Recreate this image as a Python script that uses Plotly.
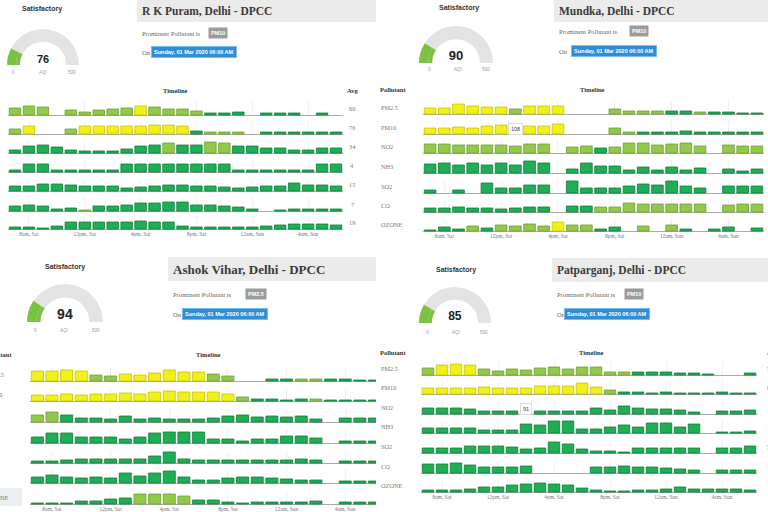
import plotly.graph_objects as go

W, H = 768, 512

# ---------------- data ----------------
POLLUTANTS = ["PM2.5", "PM10", "NO2", "NH3", "SO2", "CO", "OZONE"]
TICK_SLOTS = [1, 5, 9, 13, 17, 21]
TICK_LABELS = ["8am, Sat", "12pm, Sat", "4pm, Sat", "8pm, Sat", "12am, Sun", "4am, Sun"]
HOURS = list(range(24))

STATIONS = ["R K Puram, Delhi - DPCC", "Mundka, Delhi - DPCC",
            "Ashok Vihar, Delhi - DPCC", "Patparganj, Delhi - DPCC"]
AQI = [76, 90, 94, 85]
AQI_STATUS = ["Satisfactory", "Satisfactory", "Satisfactory", "Satisfactory"]
PROMINENT = ["PM10", "PM10", "PM2.5", "PM10"]
UPDATED = "Sunday, 01 Mar 2020 06:00 AM"
GAUGE_MAX = 500

# category per hour: g = good, s = satisfactory, m = moderate, - = no data
# R K Puram
RKP_PM25 = [7, 9, 8, 0, 5, 3, 5, 6, 7, 9, 8, 6, 6, 4, 2, 2, 3, 0, 2, 2, 2, 0, 2, 0]
RKP_PM25_CAT = "sss-sssssmssssggg-ggg-g-"
RKP_PM10 = [5, 8, 0, 0, 5, 8, 8, 8, 8, 8, 9, 9, 8, 3, 2, 2, 2, 0, 2, 2, 2, 2, 2, 2]
RKP_PM10_CAT = "sm--smmmmmmmmgsss-gggggg"
RKP_NO2 = [3, 7, 8, 6, 3, 2, 2, 2, 4, 7, 8, 10, 8, 8, 11, 10, 7, 7, 5, 5, 3, 3, 5, 5]
RKP_NO2_CAT = "gggggggggggsggssgggggggg"
RKP_NH3 = [2, 8, 8, 2, 2, 2, 2, 2, 8, 8, 8, 8, 8, 8, 8, 8, 2, 2, 2, 2, 2, 2, 8, 8]
RKP_NH3_CAT = "gggggggggggggggggggggggg"
RKP_SO2 = [5, 5, 7, 7, 6, 5, 5, 5, 3, 4, 5, 6, 6, 5, 5, 4, 3, 4, 5, 5, 8, 6, 6, 5]
RKP_SO2_CAT = "gggggggggggggggggggggggg"
RKP_CO = [5, 6, 5, 2, 3, 1, 5, 5, 6, 8, 8, 9, 9, 6, 6, 5, 4, 2, 0, 1, 2, 2, 2, 2]
RKP_CO_CAT = "gggggsgggggggggggg-ggggg"
RKP_OZONE = [2, 2, 1, 3, 7, 7, 7, 7, 7, 8, 7, 7, 3, 2, 2, 2, 2, 2, 3, 4, 5, 5, 5, 4]
RKP_OZONE_CAT = "gggggggggggggggggggggggg"
RKP_AVG = [60, 76, 34, 4, 15, 7, 19]

# Mundka
MUN_PM25 = [6, 6, 10, 8, 7, 7, 5, 8, 8, 8, 0, 0, 0, 5, 3, 3, 3, 3, 3, 2, 2, 2, 1, 1]
MUN_PM25_CAT = "mmmmmmsmmm---ssssggsgggg"
MUN_PM10 = [6, 6, 7, 6, 8, 9, 8, 8, 8, 10, 0, 0, 0, 6, 2, 2, 2, 2, 3, 2, 2, 2, 2, 2]
MUN_PM10_CAT = "mmmmmmmmmm---ssggggggggg"
MUN_NO2 = [9, 9, 8, 8, 8, 8, 7, 9, 9, 0, 6, 7, 5, 6, 10, 10, 8, 9, 10, 7, 0, 8, 7, 7]
MUN_NO2_CAT = "sssssssss-ssgsssssss-sss"
MUN_NH3 = [9, 10, 8, 10, 8, 10, 8, 12, 10, 0, 4, 10, 7, 7, 3, 6, 3, 6, 3, 5, 0, 4, 2, 4]
MUN_NH3_CAT = "ggggggggg-gggggggggg-ggg"
MUN_SO2 = [3, 0, 3, 0, 10, 5, 5, 8, 8, 0, 12, 5, 5, 5, 7, 9, 8, 12, 7, 5, 0, 7, 7, 7]
MUN_SO2_CAT = "g-g-ggggg-gggggggggg-ggg"
MUN_CO = [4, 4, 5, 4, 4, 3, 4, 5, 5, 0, 6, 6, 5, 5, 9, 8, 8, 8, 8, 8, 0, 7, 8, 8]
MUN_CO_CAT = "ggggggggg-ggssssssss-sss"
MUN_OZONE = [1, 4, 2, 5, 3, 6, 5, 7, 5, 9, 6, 6, 2, 4, 0, 5, 0, 6, 2, 0, 2, 4, 0, 3]
MUN_OZONE_CAT = "gggsgssssmssgg-s-sg-gg-g"
MUN_TOOLTIP = (1, 6, "108")   # row, hour, value shown in hover box

# Ashok Vihar
ASV_PM25 = [10, 10, 11, 10, 6, 5, 7, 6, 8, 11, 9, 9, 7, 5, 0, 0, 2, 2, 2, 2, 2, 2, 1, 1]
ASV_PM25_CAT = "mmmmssmmmmmmss--ggssgggg"
ASV_PM10 = [6, 6, 7, 6, 7, 7, 8, 7, 9, 10, 9, 9, 9, 7, 4, 2, 2, 1, 2, 2, 1, 1, 1, 1]
ASV_PM10_CAT = "mmmmmmmmmmmmmmsggggsgggg"
ASV_NO2 = [7, 10, 7, 4, 4, 3, 6, 3, 4, 3, 3, 3, 4, 6, 7, 5, 6, 5, 6, 3, 0, 4, 4, 4]
ASV_NO2_CAT = "ssgggggggggggggggggg-ggg"
ASV_NH3 = [6, 10, 10, 6, 6, 6, 4, 6, 10, 11, 11, 11, 4, 4, 2, 4, 4, 7, 7, 5, 0, 2, 2, 2]
ASV_NH3_CAT = "gggggggggggggggggggg-ggg"
ASV_SO2 = [2, 2, 3, 4, 4, 4, 4, 4, 7, 11, 4, 3, 3, 3, 3, 3, 3, 3, 4, 3, 0, 2, 2, 2]
ASV_SO2_CAT = "gggggggggggggggggggg-ggg"
ASV_CO = [6, 8, 6, 5, 6, 5, 10, 7, 10, 12, 6, 3, 3, 5, 6, 6, 5, 4, 3, 3, 0, 2, 2, 2]
ASV_CO_CAT = "gggggggggggggggggggg-ggg"
ASV_OZONE = [1, 1, 1, 3, 3, 5, 6, 10, 10, 10, 8, 4, 4, 2, 1, 2, 2, 2, 2, 3, 0, 2, 2, 2]
ASV_OZONE_CAT = "gggggggssssggggggggg-ggg"

# Patparganj
PPG_PM25 = [7, 10, 11, 10, 6, 4, 6, 5, 7, 8, 6, 8, 8, 3, 3, 3, 3, 3, 2, 2, 1, 0, 0, 2]
PPG_PM25_CAT = "smmmsssssssssssgggggg--g"
PPG_PM10 = [6, 6, 6, 6, 7, 6, 6, 6, 8, 8, 8, 11, 7, 4, 2, 2, 1, 2, 1, 1, 1, 2, 1, 1]
PPG_PM10_CAT = "mmmmmmmmmmmmmsgggggggggg"
PPG_NO2 = [6, 6, 6, 5, 3, 3, 3, 0, 3, 3, 3, 3, 6, 4, 8, 6, 5, 5, 4, 2, 0, 3, 3, 4]
PPG_NO2_CAT = "ggggggg-gggggggggggg-ggg"
PPG_NH3 = [5, 5, 5, 5, 3, 3, 3, 9, 8, 12, 12, 4, 4, 6, 8, 6, 10, 10, 6, 9, 0, 1, 1, 2]
PPG_NH3_CAT = "gggggggggggggggggggg-ggg"
PPG_SO2 = [5, 5, 5, 7, 7, 7, 6, 4, 5, 11, 9, 4, 2, 2, 1, 5, 5, 5, 5, 5, 0, 5, 5, 7]
PPG_SO2_CAT = "gggggggggggggggggggg-ggg"
PPG_CO = [9, 9, 10, 8, 6, 6, 6, 7, 0, 0, 0, 0, 6, 6, 7, 6, 6, 5, 4, 3, 0, 3, 3, 3]
PPG_CO_CAT = "gggggggg----gggggggg-ggg"
PPG_OZONE = [2, 2, 2, 3, 5, 5, 7, 8, 9, 8, 7, 4, 2, 1, 1, 2, 2, 3, 5, 3, 3, 3, 3, 2]
PPG_OZONE_CAT = "gggggggggggggggggggggggg"
PPG_AVG = [56, 83, 14, 15, 57, 30, 12]
PPG_TOOLTIP = (2, 7, "91")

SERIES = [
    [(RKP_PM25, RKP_PM25_CAT), (RKP_PM10, RKP_PM10_CAT), (RKP_NO2, RKP_NO2_CAT), (RKP_NH3, RKP_NH3_CAT),
     (RKP_SO2, RKP_SO2_CAT), (RKP_CO, RKP_CO_CAT), (RKP_OZONE, RKP_OZONE_CAT)],
    [(MUN_PM25, MUN_PM25_CAT), (MUN_PM10, MUN_PM10_CAT), (MUN_NO2, MUN_NO2_CAT), (MUN_NH3, MUN_NH3_CAT),
     (MUN_SO2, MUN_SO2_CAT), (MUN_CO, MUN_CO_CAT), (MUN_OZONE, MUN_OZONE_CAT)],
    [(ASV_PM25, ASV_PM25_CAT), (ASV_PM10, ASV_PM10_CAT), (ASV_NO2, ASV_NO2_CAT), (ASV_NH3, ASV_NH3_CAT),
     (ASV_SO2, ASV_SO2_CAT), (ASV_CO, ASV_CO_CAT), (ASV_OZONE, ASV_OZONE_CAT)],
    [(PPG_PM25, PPG_PM25_CAT), (PPG_PM10, PPG_PM10_CAT), (PPG_NO2, PPG_NO2_CAT), (PPG_NH3, PPG_NH3_CAT),
     (PPG_SO2, PPG_SO2_CAT), (PPG_CO, PPG_CO_CAT), (PPG_OZONE, PPG_OZONE_CAT)],
]
AVGS = [RKP_AVG, None, None, PPG_AVG]
TOOLTIPS = [None, MUN_TOOLTIP, None, PPG_TOOLTIP]

# ---------------- styles / layout (pixels) ----------------
FILL = {"g": "#1fae55", "s": "#93c94a", "m": "#f2f019"}
EDGE = {"g": "#0c7d3a", "s": "#6f9f2f", "m": "#c9c400"}
SERIF = "Liberation Serif"
SANS = "Liberation Sans"

LAYOUT = [
    dict(sat=(42, 9), gauge=(43, 65, 36), num=11, glab_y=72, glab_x=(13, 43, 72),
         box=(137, 376, 0, 22), title=(140, 11, 11.5), prom=(140, 33), badge=208, on=(140, 52), blue=151,
         poll_x=None, timeline=(175, 90), avg_x=352, bars=(8, 343, 23.5),
         base=[115, 134, 153, 172, 191, 211, 229]),
    dict(sat=(459, 8), gauge=(456, 63, 37), num=13, glab_y=69, glab_x=(429, 458, 486),
         box=(554, 768, 0, 22), title=(557, 11, 11.5), prom=(557, 31), badge=629, on=(557, 51), blue=571,
         poll_x=378, timeline=(592, 89), avg_x=None, bars=(423, 764, 23.5),
         base=[114, 134, 153, 173, 193, 212, 231]),
    dict(sat=(65, 267), gauge=(65, 322, 38), num=14, glab_y=330, glab_x=(35, 64, 96),
         box=(168, 376, 257, 281), title=(171, 269, 13), prom=(171, 294), badge=245, on=(171, 314), blue=182,
         poll_x=-16, timeline=(208, 354), avg_x=None, bars=(30, 376, 23.1),
         base=[381, 401, 422, 443, 463, 483, 504]),
    dict(sat=(456, 270), gauge=(455, 323, 36), num=12, glab_y=332, glab_x=(427, 456, 484),
         box=(552, 768, 258, 282), title=(555, 270, 11.5), prom=(555, 294), badge=624, on=(555, 314), blue=564,
         poll_x=378, timeline=(591, 352), avg_x=765, bars=(421, 757, 23.5),
         base=[375, 394, 414, 433, 453, 473, 492]),
]


def fx(px):
    return px / W


def fy(py):
    return 1 - py / H


fig = go.Figure()
annotations = []
shapes = []


def ann(px, py, text, size, color="#333", family=SERIF, xanchor="left", bg=None, border=None, pad=1):
    d = dict(x=fx(px), y=fy(py), xref="paper", yref="paper", text=text, showarrow=False,
             xanchor=xanchor, yanchor="middle", font=dict(size=size, color=color, family=family))
    if bg:
        d["bgcolor"] = bg
        d["borderpad"] = pad
    if border:
        d["bordercolor"] = border
        d["borderwidth"] = 1
    annotations.append(d)


def gauge_trace(value, cx, base, radius, mode, num_size):
    return go.Indicator(
        mode=mode, value=value,
        domain=dict(x=[fx(cx - radius), fx(cx + radius)], y=[fy(base), fy(base - radius)]),
        number=dict(font=dict(size=num_size, color="#222", family=SANS, weight="bold")),
        gauge=dict(shape="angular", axis=dict(range=[0, GAUGE_MAX], visible=False),
                   bar=dict(color="#7cc242", thickness=1), bgcolor="#e3e3e3", borderwidth=0))


layout_axes = {}
for p, L in enumerate(LAYOUT):
    xname = "x" if p == 0 else f"x{p + 1}"
    xkey = "xaxis" if p == 0 else f"xaxis{p + 1}"
    bottom_y = p * 7 + 7
    x0, x1, xmax = L["bars"]
    layout_axes[xkey] = dict(domain=[fx(x0), fx(x1)], range=[-0.5, xmax], anchor=f"y{bottom_y}",
                             tickvals=TICK_SLOTS, ticktext=TICK_LABELS, showgrid=True, gridcolor="#efefef",
                             gridwidth=1, zeroline=False, showline=False, ticks="",
                             tickfont=dict(size=5.5, color="#777", family=SERIF), fixedrange=True)
    for r in range(7):
        k = p * 7 + r + 1
        yname = "y" if k == 1 else f"y{k}"
        ykey = "yaxis" if k == 1 else f"yaxis{k}"
        b = L["base"][r]
        layout_axes[ykey] = dict(domain=[fy(b + 0.9), fy(b - 13)], range=[-0.9, 13], anchor=xname,
                                 showgrid=False, showticklabels=False, ticks="", zeroline=True,
                                 zerolinecolor="#a9a9a9", zerolinewidth=1, showline=False, fixedrange=True)
        vals, cats = SERIES[p][r]
        xs = [h for h, c in zip(HOURS, cats) if c != "-"]
        ys = [v for v, c in zip(vals, cats) if c != "-"]
        cs = [c for c in cats if c != "-"]
        fig.add_trace(go.Bar(x=xs, y=ys, xaxis=xname, yaxis=yname, width=0.82,
                             marker=dict(color=[FILL[c] for c in cs],
                                         line=dict(color=[EDGE[c] for c in cs], width=0.8)),
                             hoverinfo="skip", showlegend=False))

    # gauge: outer ring with the number, plus an inner ring to thicken the arc
    cx, gb, R = L["gauge"]
    fig.add_trace(gauge_trace(AQI[p], cx, gb, R * 0.86, "gauge", L["num"]))
    fig.add_trace(gauge_trace(AQI[p], cx, gb, R, "gauge+number", L["num"]))
    for gx, gt in zip(L["glab_x"], ["0", "AQI", str(GAUGE_MAX)]):
        ann(gx, L["glab_y"], gt, 4.5, color="#999", family=SANS, xanchor="center")

    ann(L["sat"][0], L["sat"][1], "<b>" + AQI_STATUS[p] + "</b>", 7, color="#333", family=SANS, xanchor="center")

    bx0, bx1, by0, by1 = L["box"]
    shapes.append(dict(type="rect", xref="paper", yref="paper", x0=fx(bx0), x1=fx(bx1), y0=fy(by1), y1=fy(by0),
                       fillcolor="#ebebeb", line=dict(width=0), layer="below"))
    tx, ty, ts = L["title"]
    ann(tx, ty, "<b>" + STATIONS[p] + "</b>", ts, color="#3a3a3a")
    ann(L["prom"][0], L["prom"][1], "Prominent Pollutant is", 6.5, color="#666")
    ann(L["badge"], L["prom"][1], "<b>" + PROMINENT[p] + "</b>", 5.5, color="white", family=SANS,
        bg="#9b9b9b", pad=2)
    ann(L["on"][0], L["on"][1], "On", 6.5, color="#666")
    ann(L["blue"], L["on"][1], "<b>" + UPDATED + "</b>", 5.5, color="white", family=SANS,
        bg="#2f8ed6", border="#73bdf2", pad=2)

    ann(L["timeline"][0], L["timeline"][1], "<b>Timeline</b>", 6.5, color="#333", xanchor="center")
    if L["poll_x"] is not None:
        ann(L["poll_x"], L["timeline"][1], "<b>Pollutant</b>", 6.5, color="#333")
        for r, name in enumerate(POLLUTANTS):
            ann(L["poll_x"] + 1, L["base"][r] - 7, name, 6.3, color="#777")
    if L["avg_x"] is not None:
        anchor = "center" if p == 0 else "left"
        ann(L["avg_x"], L["timeline"][1], "<b>Avg</b>", 6.5, color="#333", xanchor=anchor)
        for r, v in enumerate(AVGS[p]):
            ann(L["avg_x"], L["base"][r] - 7, str(v), 6.3, color="#777", xanchor=anchor)
    if TOOLTIPS[p] is not None:
        tr, th, tt = TOOLTIPS[p]
        slot_w = (x1 - x0) / (xmax + 0.5)
        ann(x0 + (th + 0.5) * slot_w, L["base"][tr] - 5, tt, 5.5, color="#444", family=SANS,
            xanchor="center", bg="white", border="#dddddd", pad=2)

# highlighted OZONE row label in Ashok Vihar panel
shapes.append(dict(type="rect", xref="paper", yref="paper", x0=fx(0), x1=fx(22), y0=fy(506), y1=fy(488),
                   fillcolor="#eceff1", line=dict(width=0), layer="below"))

fig.update_layout(width=W, height=H, margin=dict(l=0, r=0, t=0, b=0), autosize=False,
                  paper_bgcolor="white", plot_bgcolor="rgba(0,0,0,0)", showlegend=False,
                  hovermode=False, annotations=annotations, shapes=shapes, **layout_axes)

fig.write_html("out.html")
